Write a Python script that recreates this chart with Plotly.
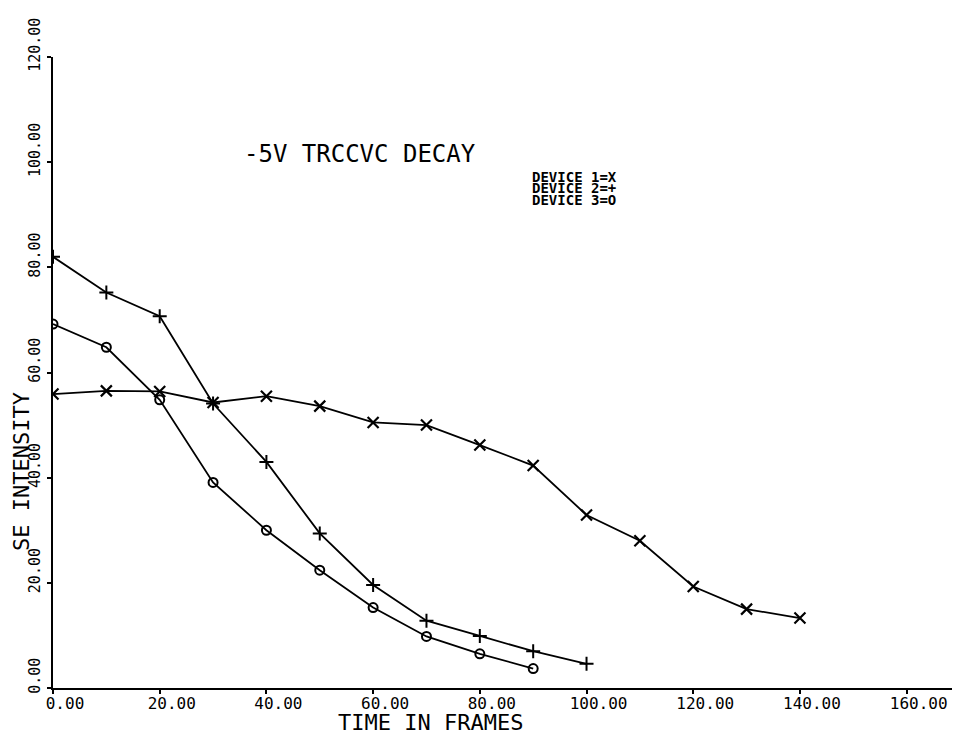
import plotly.graph_objects as go

# Data
frames_dev1 = [0, 10, 20, 30, 40, 50, 60, 70, 80, 90, 100, 110, 120, 130, 140]
intensity_dev1 = [55.9, 56.5, 56.4, 54.3, 55.5, 53.6, 50.5, 50.0, 46.2, 42.3, 32.9, 28.0, 19.3, 15.0, 13.3]

frames_dev2 = [0, 10, 20, 30, 40, 50, 60, 70, 80, 90, 100]
intensity_dev2 = [82.0, 75.2, 70.7, 54.1, 43.0, 29.4, 19.6, 12.8, 9.9, 7.0, 4.6]

frames_dev3 = [0, 10, 20, 30, 40, 50, 60, 70, 80, 90]
intensity_dev3 = [69.2, 64.8, 54.8, 39.1, 30.0, 22.4, 15.3, 9.8, 6.5, 3.7]

x_tick_vals = [0, 20, 40, 60, 80, 100, 120, 140, 160]
x_tick_text = ["0.00", "20.00", "40.00", "60.00", "80.00", "100.00", "120.00", "140.00", "160.00"]
y_tick_vals = [0, 20, 40, 60, 80, 100, 120]
y_tick_text = ["0.00", "20.00", "40.00", "60.00", "80.00", "100.00", "120.00"]

legend_lines = ["DEVICE 1=X", "DEVICE 2=+", "DEVICE 3=O"]
legend_y = [97.2, 95.0, 92.8]

MONO = "DejaVu Sans Mono"
line_style = dict(color="black", width=1.8)

fig = go.Figure()
fig.add_trace(go.Scatter(
    x=frames_dev1, y=intensity_dev1, mode="lines+markers", name="DEVICE 1",
    line=line_style,
    marker=dict(symbol="x-thin", size=11, line=dict(color="black", width=2.2), color="black"),
))
fig.add_trace(go.Scatter(
    x=frames_dev2, y=intensity_dev2, mode="lines+markers", name="DEVICE 2",
    line=line_style,
    marker=dict(symbol="cross-thin", size=10, line=dict(color="black", width=2), color="black"),
))
fig.add_trace(go.Scatter(
    x=frames_dev3, y=intensity_dev3, mode="lines+markers", name="DEVICE 3",
    line=line_style,
    marker=dict(symbol="circle-open", size=9, line=dict(color="black", width=2), color="black"),
))

annotations = [
    dict(text="-5V TRCCVC DECAY", x=57.5, y=101.6, xref="x", yref="y",
         showarrow=False, font=dict(family=MONO, size=24, color="black"),
         xanchor="center", yanchor="middle"),
    dict(text="TIME IN FRAMES", x=70.7, y=-0.054, xref="x", yref="paper",
         showarrow=False, font=dict(family=MONO, size=22, color="black"),
         xanchor="center", yanchor="middle"),
    dict(text="SE INTENSITY", x=-0.034, y=41.1, xref="paper", yref="y",
         showarrow=False, textangle=-90, font=dict(family=MONO, size=22, color="black"),
         xanchor="center", yanchor="middle"),
]
for txt, yy in zip(legend_lines, legend_y):
    annotations.append(dict(text="<b>" + txt + "</b>", x=89.4, y=yy, xref="x", yref="y",
                            showarrow=False, font=dict(family=MONO, size=14, color="black"),
                            xanchor="left", yanchor="middle"))

fig.update_layout(
    width=960, height=736,
    margin=dict(l=45, r=8, t=49, b=56),
    paper_bgcolor="white", plot_bgcolor="white",
    showlegend=False,
    annotations=annotations,
    xaxis=dict(
        range=[0, 170], showgrid=False, zeroline=False,
        showline=True, linecolor="black", linewidth=2,
        ticks="outside", ticklen=4, tickwidth=1.5, tickcolor="black",
        tickmode="array", tickvals=x_tick_vals, ticktext=x_tick_text,
        tickfont=dict(family=MONO, size=16, color="black"),
        ticklabelshift=12, ticklabelstandoff=-4,
    ),
    yaxis=dict(
        range=[0, 120], showgrid=False, zeroline=False,
        showline=True, linecolor="black", linewidth=2,
        ticks="outside", ticklen=4, tickwidth=1.5, tickcolor="black",
        tickmode="array", tickvals=y_tick_vals, ticktext=y_tick_text,
        tickangle=-90,
        tickfont=dict(family=MONO, size=15, color="black"),
        ticklabelshift=-10, ticklabelstandoff=1,
    ),
)

fig.write_html("out.html")
